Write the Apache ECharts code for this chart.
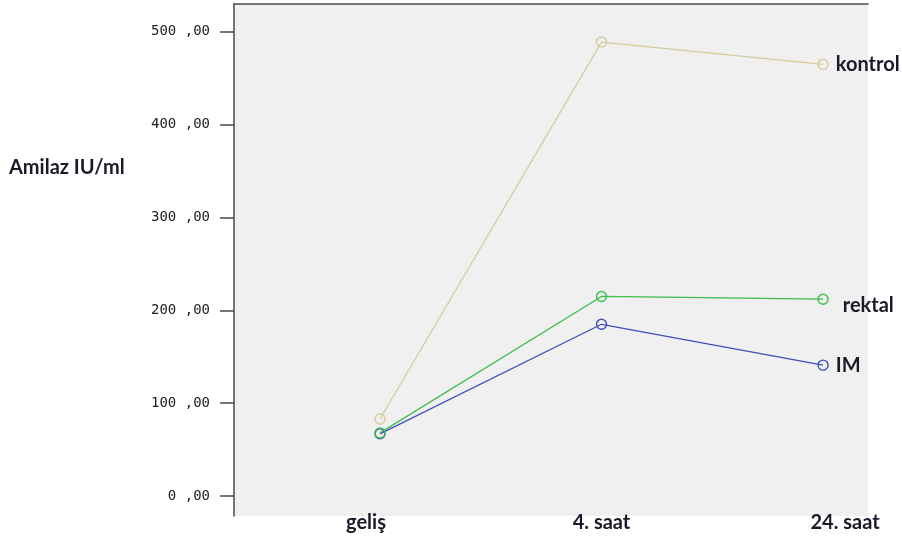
<!DOCTYPE html>
<html>
<head>
<meta charset="utf-8">
<script src="https://cdn.jsdelivr.net/npm/echarts@6/dist/echarts.min.js"></script>
<style>
html,body{margin:0;padding:0;background:#fff;}
#c{width:902px;height:538px;}
</style>
</head>
<body>
<div id="c"></div>
<script>
var categories = ['geliş', '4. saat', '24. saat'];
var kontrol = [83, 489, 465];
var rektal = [68, 215, 212];
var im = [67, 185, 141];
var yTicks = [0, 100, 200, 300, 400, 500];
var yTitle = 'Amilaz IU/ml';

function toPairs(arr){ return arr.map(function(v,i){ return [i, v]; }); }

var chart = echarts.init(document.getElementById('c'));
var labelFont = 'Lato';
var fs = 20;
function endLabel(name, offset){
  return {
    show: true,
    position: 'right',
    distance: 7,
    offset: offset,
    formatter: function(p){ return p.dataIndex === categories.length - 1 ? name : ''; },
    fontFamily: labelFont, fontWeight: 'bold', fontSize: fs, color: '#1a1a2a'
  };
}
function mkSeries(name, data, color, offset){
  return {
    name: name, type: 'line', data: toPairs(data),
    symbol: 'circle', symbolSize: 10,
    lineStyle: {color: color, width: 1.3},
    itemStyle: {color: 'rgba(0,0,0,0)', borderColor: color, borderWidth: 1.4},
    label: endLabel(name, offset),
    emphasis: {disabled: true},
    animation: false
  };
}
chart.setOption({
  backgroundColor: '#ffffff',
  graphic: [{
    type: 'text', left: 9, top: 158,
    style: {text: yTitle, fontFamily: labelFont, fontWeight: 'bold', fontSize: fs, fill: '#1a1a2a'}
  }],
  grid: {left: 234, top: 4, right: 34, bottom: 22, show: true, backgroundColor: '#f0f0f0', borderWidth: 0},
  xAxis: [{
    type: 'value', min: -0.659, max: 2.203,
    splitLine: {show: false},
    axisLine: {show: false, onZero: false}, axisTick: {show: false},
    axisLabel: {
      customValues: [0, 1, 2], margin: -3,
      formatter: function(v){
        var i = Math.round(v);
        var k = i === 0 ? 'a' : (i === 1 ? 'b' : 'c');
        return '{' + k + '|' + categories[i] + '}';
      },
      rich: {
        a: {fontFamily: labelFont, fontWeight: 'bold', fontSize: fs, color: '#1a1a2a', padding: [0, 28, 0, 0]},
        b: {fontFamily: labelFont, fontWeight: 'bold', fontSize: fs, color: '#1a1a2a'},
        c: {fontFamily: labelFont, fontWeight: 'bold', fontSize: fs, color: '#1a1a2a', padding: [0, 0, 0, 44]}
      }
    }
  }, {
    type: 'value', position: 'top', min: -0.659, max: 2.203,
    splitLine: {show: false}, axisTick: {show: false}, axisLabel: {show: false},
    axisLine: {show: true, onZero: false, lineStyle: {color: '#4a4a4a', width: 1.5}}
  }],
  yAxis: {
    type: 'value', min: -21.5, max: 530,
    splitLine: {show: false},
    axisLine: {show: true, onZero: false, lineStyle: {color: '#4a4a4a', width: 1.5}},
    axisTick: {show: true, customValues: yTicks, length: 14, lineStyle: {color: '#4a4a4a', width: 1.5}},
    axisLabel: {
      customValues: yTicks, margin: 24,
      fontFamily: 'DejaVu Sans Mono', fontSize: 14, color: '#222',
      formatter: function(v){ return Math.round(v) + ' ,00'; }
    }
  },
  series: [
    mkSeries('kontrol', kontrol, '#d6cd9c', [0, 0]),
    mkSeries('IM', im, '#3f4fbd', [0, 0]),
    mkSeries('rektal', rektal, '#3dbf4c', [7, 6])
  ]
});
</script>
</body>
</html>
